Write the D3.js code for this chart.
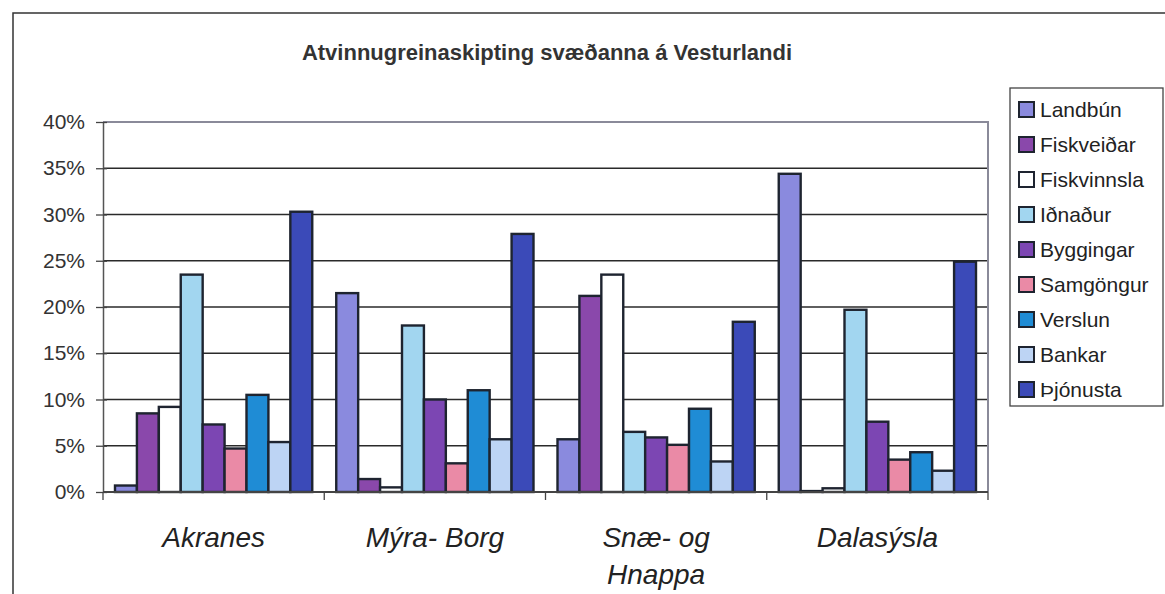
<!DOCTYPE html>
<html>
<head>
<meta charset="utf-8">
<script src="https://cdn.jsdelivr.net/npm/d3@7"></script>
<style>
  body { margin: 0; background: #fff; }
  svg { display: block; font-family: Arial, "Liberation Sans", sans-serif; }
</style>
</head>
<body>
<script>
// gögn lesin af myndinni (prósentur)
var categories = [["Akranes"], ["Mýra- Borg"], ["Snæ- og", "Hnappa"], ["Dalasýsla"]];
var seriesNames = ["Landbún", "Fiskveiðar", "Fiskvinnsla", "Iðnaður", "Byggingar",
                   "Samgöngur", "Verslun", "Bankar", "Þjónusta"];
var seriesColors = ["#8a8ade", "#8a48ab", "#ffffff", "#a2d6f0", "#7c46b3",
                    "#ea8aa6", "#1f8cd5", "#bdd4f4", "#3b4ab8"];

var landbun     = [0.7, 21.5, 5.7, 34.4];
var fiskveidar  = [8.5, 1.4, 21.2, 0.1];
var fiskvinnsla = [9.2, 0.5, 23.5, 0.4];
var idnadur     = [23.5, 18.0, 6.5, 19.7];
var byggingar   = [7.3, 10.0, 5.9, 7.6];
var samgongur   = [4.7, 3.1, 5.1, 3.5];
var verslun     = [10.5, 11.0, 9.0, 4.3];
var bankar      = [5.4, 5.7, 3.3, 2.3];
var thjonusta   = [30.3, 27.9, 18.4, 24.9];
var seriesValues = [landbun, fiskveidar, fiskvinnsla, idnadur, byggingar,
                    samgongur, verslun, bankar, thjonusta];

var yTicks = [0, 5, 10, 15, 20, 25, 30, 35, 40];

var W = 1165, H = 594;
var plot = { left: 103, right: 988, top: 122, bottom: 492 };

var svg = d3.select("body").append("svg")
    .attr("width", W)
    .attr("height", H);

// ytri rammi
svg.append("rect")
    .attr("x", 13).attr("y", 13)
    .attr("width", W).attr("height", H)
    .attr("fill", "none")
    .attr("stroke", "#333")
    .attr("stroke-width", 1.5);

// titill
svg.append("text")
    .attr("x", 547).attr("y", 60)
    .attr("text-anchor", "middle")
    .attr("font-size", "22px")
    .attr("font-weight", "bold")
    .attr("fill", "#333")
    .text("Atvinnugreinaskipting svæðanna á Vesturlandi");

// kvarðar
var x0 = d3.scaleBand()
    .domain(d3.range(categories.length))
    .range([plot.left, plot.right])
    .paddingInner(0).paddingOuter(0);

var x1 = d3.scaleBand()
    .domain(d3.range(seriesNames.length))
    .range([12, x0.bandwidth() - 12]);

var y = d3.scaleLinear()
    .domain([0, 40])
    .range([plot.bottom, plot.top]);

// hnitanet
svg.append("g").selectAll("line")
    .data(yTicks.filter(function (d) { return d > 0 && d < 40; }))
    .enter().append("line")
    .attr("x1", plot.left).attr("x2", plot.right)
    .attr("y1", function (d) { return y(d); })
    .attr("y2", function (d) { return y(d); })
    .attr("stroke", "#2a2a2a")
    .attr("stroke-width", 1.6);

// rammi teiknisvæðis (efst og hægra megin)
svg.append("path")
    .attr("d", "M" + plot.left + "," + y(40) + "H" + plot.right + "V" + plot.bottom)
    .attr("fill", "none")
    .attr("stroke", "#8a8a99")
    .attr("stroke-width", 2);

// súlur
var groups = svg.append("g").selectAll("g")
    .data(categories)
    .enter().append("g")
    .attr("transform", function (d, i) { return "translate(" + x0(i) + ",0)"; });

groups.selectAll("rect")
    .data(function (d, i) {
        return seriesValues.map(function (vals, s) { return { s: s, v: vals[i] }; });
    })
    .enter().append("rect")
    .attr("x", function (d) { return x1(d.s); })
    .attr("y", function (d) { return y(d.v); })
    .attr("width", x1.bandwidth())
    .attr("height", function (d) { return y(0) - y(d.v); })
    .attr("fill", function (d) { return seriesColors[d.s]; })
    .attr("stroke", "#1e2430")
    .attr("stroke-width", 2.4);

// y-ás
var yAxis = d3.axisLeft(y)
    .tickValues(yTicks)
    .tickSizeInner(7)
    .tickSizeOuter(0)
    .tickPadding(11)
    .tickFormat(function (d) { return d + "%"; });

var yg = svg.append("g")
    .attr("transform", "translate(" + plot.left + ",0)")
    .call(yAxis);
yg.select(".domain").attr("stroke", "#555").attr("stroke-width", 1.5);
yg.selectAll(".tick line").attr("x2", 4).attr("x1", -7).attr("stroke", "#444").attr("stroke-width", 1.3);
yg.selectAll(".tick text")
    .attr("font-size", "21px")
    .attr("font-family", "Arial, 'Liberation Sans', sans-serif")
    .attr("fill", "#333");

// x-ás
svg.append("line")
    .attr("x1", plot.left).attr("x2", plot.right)
    .attr("y1", plot.bottom).attr("y2", plot.bottom)
    .attr("stroke", "#444").attr("stroke-width", 1.8);

svg.append("g").selectAll("line")
    .data(d3.range(categories.length + 1))
    .enter().append("line")
    .attr("x1", function (i) { return plot.left + i * x0.bandwidth(); })
    .attr("x2", function (i) { return plot.left + i * x0.bandwidth(); })
    .attr("y1", plot.bottom).attr("y2", plot.bottom + 8)
    .attr("stroke", "#444").attr("stroke-width", 1.3);

// flokkaheiti
var labels = svg.append("g").selectAll("text")
    .data(categories)
    .enter().append("text")
    .attr("x", function (d, i) { return x0(i) + x0.bandwidth() / 2; })
    .attr("y", 547)
    .attr("text-anchor", "middle")
    .attr("font-size", "28px")
    .attr("font-style", "italic")
    .attr("fill", "#222");

labels.selectAll("tspan")
    .data(function (d) { return d; })
    .enter().append("tspan")
    .attr("x", function () { return d3.select(this.parentNode).attr("x"); })
    .attr("dy", function (d, i) { return i === 0 ? 0 : 37; })
    .text(function (d) { return d; });

// skýringar
var legend = svg.append("g");
legend.append("rect")
    .attr("x", 1010).attr("y", 88)
    .attr("width", 153).attr("height", 318)
    .attr("fill", "#fff")
    .attr("stroke", "#444")
    .attr("stroke-width", 1.3);

var items = legend.selectAll("g.item")
    .data(seriesNames)
    .enter().append("g")
    .attr("class", "item")
    .attr("transform", function (d, i) { return "translate(1019," + (109 + i * 35) + ")"; });

items.append("rect")
    .attr("x", 0).attr("y", -7)
    .attr("width", 15).attr("height", 15)
    .attr("fill", function (d, i) { return seriesColors[i]; })
    .attr("stroke", "#1e2430")
    .attr("stroke-width", 2);

items.append("text")
    .attr("x", 21).attr("y", 8)
    .attr("font-size", "21px")
    .attr("fill", "#222")
    .text(function (d) { return d; });
</script>
</body>
</html>
